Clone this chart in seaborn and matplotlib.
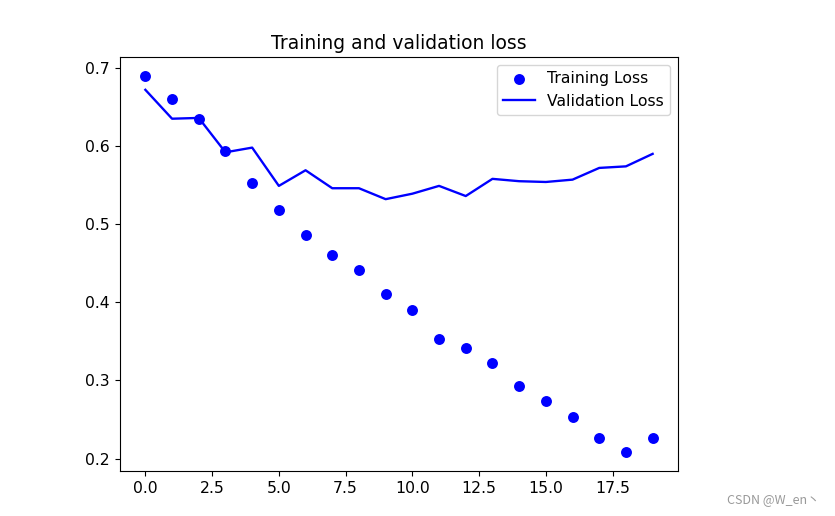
import matplotlib
matplotlib.use("Agg")
import matplotlib.pyplot as plt
import seaborn as sns
import numpy as np

# epochs and loss values
epochs = list(range(20))
train_loss = [0.690, 0.660, 0.635, 0.594, 0.553, 0.518, 0.486, 0.460, 0.441, 0.411,
              0.390, 0.353, 0.342, 0.322, 0.293, 0.273, 0.253, 0.226, 0.208, 0.226]
val_loss = [0.672, 0.635, 0.636, 0.592, 0.598, 0.549, 0.569, 0.546, 0.546, 0.532,
            0.539, 0.549, 0.536, 0.558, 0.555, 0.554, 0.557, 0.572, 0.574, 0.590]

scale = 1.125
plt.rcParams['font.size'] = 10 * scale

fig = plt.figure(figsize=(8.35, 5.16), dpi=100)
ax = fig.add_axes([120 / 835, 45 / 516, 558 / 835, 414 / 516])

sns.scatterplot(x=epochs, y=train_loss, ax=ax, color='blue', s=62,
                linewidth=0, label='Training Loss')
sns.lineplot(x=epochs, y=val_loss, ax=ax, color='blue', linewidth=1.5 * scale,
             label='Validation Loss')

ax.set_title('Training and validation loss', fontsize=12 * scale)
ax.set_xlim(-0.95, 19.95)
ax.set_ylim(0.184, 0.714)
ax.set_xticks(np.arange(0, 20, 2.5))
ax.legend(loc='upper right', fontsize=10 * scale)
ax.tick_params(labelsize=10 * scale, length=3.5 * scale)

# watermark from the screenshot
fig.text(0.982, 0.02, 'CSDN @W_en丶', ha='right', va='bottom', fontsize=9,
         color='#999999', family=['Noto Sans CJK SC', 'DejaVu Sans'])

fig.savefig('out.png', dpi=100)
plt.close(fig)
